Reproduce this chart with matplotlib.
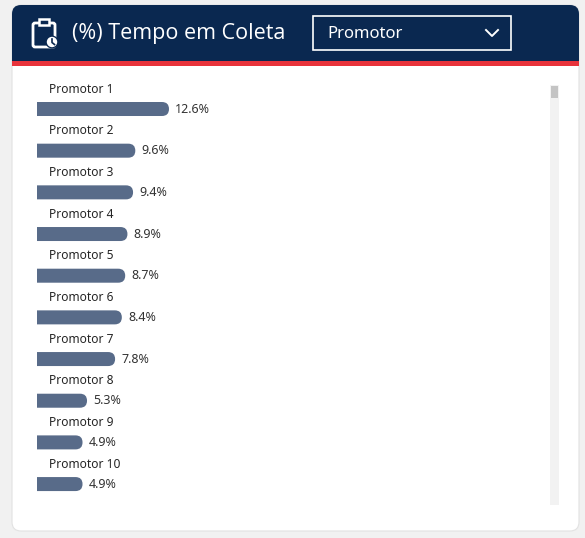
import matplotlib.pyplot as plt
from matplotlib.patches import FancyBboxPatch, Rectangle, Circle
from matplotlib.lines import Line2D

categories = [f'Promotor {i}' for i in range(1, 11)]
values = [12.6, 9.6, 9.4, 8.9, 8.7, 8.4, 7.8, 5.3, 4.9, 4.9]
title = '(%) Tempo em Coleta'
dropdown = 'Promotor'

W, H = 585, 538
navy = '#0a2850'
red = '#e8333b'
bar_c = '#586b89'
plt.rcParams['font.family'] = ['Noto Sans', 'DejaVu Sans']

fig = plt.figure(figsize=(W / 100, H / 100), dpi=100)
fig.patch.set_facecolor('#f1f1f1')

# decorations in pixel coords (y down)
deco = fig.add_axes([0, 0, 1, 1])
deco.set_xlim(0, W)
deco.set_ylim(H, 0)
deco.axis('off')
deco.add_patch(FancyBboxPatch((12, 5), 567, 526, boxstyle='round,pad=0,rounding_size=9',
                              fc='white', ec='#e2e2e2', lw=0.8))
deco.add_patch(FancyBboxPatch((12, 5), 567, 57, boxstyle='round,pad=0,rounding_size=9',
                              fc=navy, ec='none'))
deco.add_patch(Rectangle((12, 30), 567, 32, fc=navy, ec='none'))
deco.add_patch(Rectangle((12, 61), 567, 5, fc=red, ec='none'))

# clipboard icon
deco.add_patch(FancyBboxPatch((33, 23), 22, 24, boxstyle='round,pad=0,rounding_size=2',
                              fc='none', ec='white', lw=2))
deco.add_patch(Rectangle((39, 19), 10, 6, fc=navy, ec='white', lw=1.8))
deco.add_patch(Circle((52, 42), 6.5, fc=navy, ec='none'))
deco.add_patch(Circle((52, 42), 5.2, fc='white', ec='none'))
deco.add_line(Line2D([52, 52, 54.5], [39, 42.5, 44.5], color=navy, lw=1.2))

deco.text(72, 33, title, color='white', fontsize=15.5, va='center', ha='left',
          family=['Open Sans', 'DejaVu Sans'])
deco.add_patch(Rectangle((313, 16), 198, 34, fc='none', ec='white', lw=1.2))
deco.text(327, 34, dropdown, color='white', fontsize=12, va='center', ha='left',
          fontweight='semibold')
deco.add_line(Line2D([486, 492, 498], [30, 36, 30], color='white', lw=1.4))

# scrollbar
deco.add_patch(Rectangle((550, 85), 9, 420, fc='#f2f2f2', ec='none'))
deco.add_patch(Rectangle((551, 86), 7, 12, fc='#c4c4c4', ec='none'))

# bar chart
px0, px1 = 37, 545
ptop, pbot = 67.33, 504.9
ax = fig.add_axes([px0 / W, 1 - pbot / H, (px1 - px0) / W, (pbot - ptop) / H])
ax.patch.set_alpha(0)
scale = 11.23  # px per unit
xmin = (px0 - 27.5) / scale
ax.set_xlim(xmin, xmin + (px1 - px0) / scale)
ax.set_ylim(len(values) - 0.5, -1.0)
ax.axis('off')

bar_h = 14 / 41.67
rs = 7 / scale
aspect = (7 / 41.67) / rs
for i, (cat, v) in enumerate(zip(categories, values)):
    ax.add_patch(FancyBboxPatch((0, i - bar_h / 2), v, bar_h,
                                boxstyle=f'round,pad=0,rounding_size={rs}',
                                mutation_aspect=aspect, fc=bar_c, ec='none'))
    ax.annotate(f'{v:.1f}%', (v, i), xytext=(4.5, 0), textcoords='offset points',
                va='center', ha='left', fontsize=9, color='#333333')
    ax.text(xmin + 12 / scale, i - 0.48, cat, va='center', ha='left',
            fontsize=8.6, color='#252525')

fig.savefig('out.png', dpi=100, facecolor=fig.get_facecolor())
